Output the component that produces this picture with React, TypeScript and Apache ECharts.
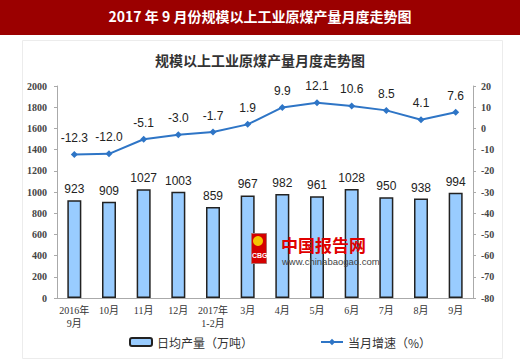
import React, { useEffect, useRef } from "react";
import * as echarts from "echarts";

const categories = [
  "2016年\n9月", "10月", "11月", "12月", "2017年\n1-2月", "3月",
  "4月", "5月", "6月", "7月", "8月", "9月",
];
const dailyOutput = [923, 909, 1027, 1003, 859, 967, 982, 961, 1028, 950, 938, 994];
const monthlyGrowth = [-12.3, -12.0, -5.1, -3.0, -1.7, 1.9, 9.9, 12.1, 10.6, 8.5, 4.1, 7.6];
const barName = "日均产量（万吨）";
const lineName = "当月增速（%）";
const headerTitle = "2017 年 9 月份规模以上工业原煤产量月度走势图";
const chartTitle = "规模以上工业原煤产量月度走势图";

const CJK = "'Noto Sans CJK SC', 'Noto Sans', sans-serif";
const SERIF = "'Liberation Serif', 'Noto Sans CJK SC', serif";
const SANS = "'Liberation Sans', Arial, sans-serif";

export default function App() {
  const ref = useRef<HTMLDivElement>(null);
  useEffect(() => {
    document.body.style.margin = "0";
    const chart = echarts.init(ref.current!, null, { renderer: "svg" });
    chart.setOption({
      animation: false,
      backgroundColor: "#ffffff",
      graphic: [
        { type: "rect", left: 0, top: 0, shape: { width: 520, height: 35 }, style: { fill: "#9b0000" }, z: 0 },
        {
          type: "text", left: "center", top: 9,
          style: { text: headerTitle, fill: "#ffffff", font: `bold 14px ${CJK}` },
        },
        {
          type: "rect", left: 22, top: 40, shape: { width: 480, height: 318 },
          style: { fill: "#ffffff", stroke: "#ececec", lineWidth: 1 }, z: -1,
        },
        {
          type: "text", left: "center", top: 53,
          style: { text: chartTitle, fill: "#333333", font: `bold 14px ${CJK}` },
        },
        // watermark
        { type: "rect", left: 251, top: 233, shape: { width: 15, height: 30 }, style: { fill: "#d40000", stroke: "#b07070", lineWidth: 1 }, z: 10 },
        { type: "circle", left: 253, top: 236, shape: { r: 5 }, style: { fill: "#f5c400" }, z: 11 },
        { type: "text", left: 252, top: 252, style: { text: "CBG", fill: "#ffffff", font: `bold 7px ${SANS}` }, z: 11 },
        { type: "text", left: 281, top: 235, style: { text: "中国报告网", fill: "#e00000", font: `bold 17px ${CJK}`, lineHeight: 18 }, z: 10 },
        { type: "text", left: 282, top: 256, style: { text: "www.chinabaogao.com", fill: "#444444", font: `9.5px ${SANS}`, lineHeight: 10 }, z: 10 },
      ],
      grid: { left: 57, right: 47, top: 86, bottom: 64 },
      legend: {
        left: 124, top: 331, itemWidth: 22, itemHeight: 8, itemGap: 67,
        textStyle: { fontSize: 12, color: "#333", fontFamily: CJK },
        data: [barName, lineName],
      },
      xAxis: {
        type: "category",
        data: categories,
        axisLine: { lineStyle: { color: "#aaaaaa" } },
        axisTick: { show: false },
        axisLabel: { fontSize: 10, lineHeight: 13, color: "#333", fontFamily: SERIF, margin: 6, interval: 0 },
      },
      yAxis: [
        {
          type: "value", min: 0, max: 2000, interval: 200,
          axisLine: { show: true, lineStyle: { color: "#aaaaaa" } },
          axisTick: { show: true, length: 3, lineStyle: { color: "#aaaaaa" } },
          splitLine: { show: false },
          axisLabel: {
            fontSize: 10, color: "#444", fontFamily: SERIF, fontWeight: "bold", margin: 10,
            formatter: (v: number) => String(v),
          },
        },
        {
          type: "value", min: -80, max: 20, interval: 10,
          axisLine: { show: true, lineStyle: { color: "#aaaaaa" } },
          axisTick: { show: true, length: 3, lineStyle: { color: "#aaaaaa" } },
          splitLine: { show: false },
          axisLabel: {
            fontSize: 10, color: "#444", fontFamily: SERIF, fontWeight: "bold", margin: 8,
            formatter: (v: number) => String(v),
          },
        },
      ],
      series: [
        {
          name: barName, type: "bar", data: dailyOutput, barWidth: 14,
          itemStyle: { color: "#99ccff", borderColor: "#222222", borderWidth: 1.5 },
          label: { show: true, position: "top", distance: 5, fontSize: 12, color: "#222", fontFamily: SANS },
        },
        {
          name: lineName, type: "line", yAxisIndex: 1, data: monthlyGrowth,
          symbol: "diamond", symbolSize: 7,
          lineStyle: { color: "#2e75c6", width: 2 },
          itemStyle: { color: "#2e75c6" },
          label: {
            show: true, position: "top", distance: 7, fontSize: 12, color: "#222", fontFamily: SANS,
            formatter: (p: any) => Number(p.value).toFixed(1),
          },
        },
      ],
    });
    return () => chart.dispose();
  }, []);
  return (
    <div
      ref={ref}
      style={{ position: "fixed", left: 0, top: 0, width: 520, height: 362 }}
    />
  );
}
